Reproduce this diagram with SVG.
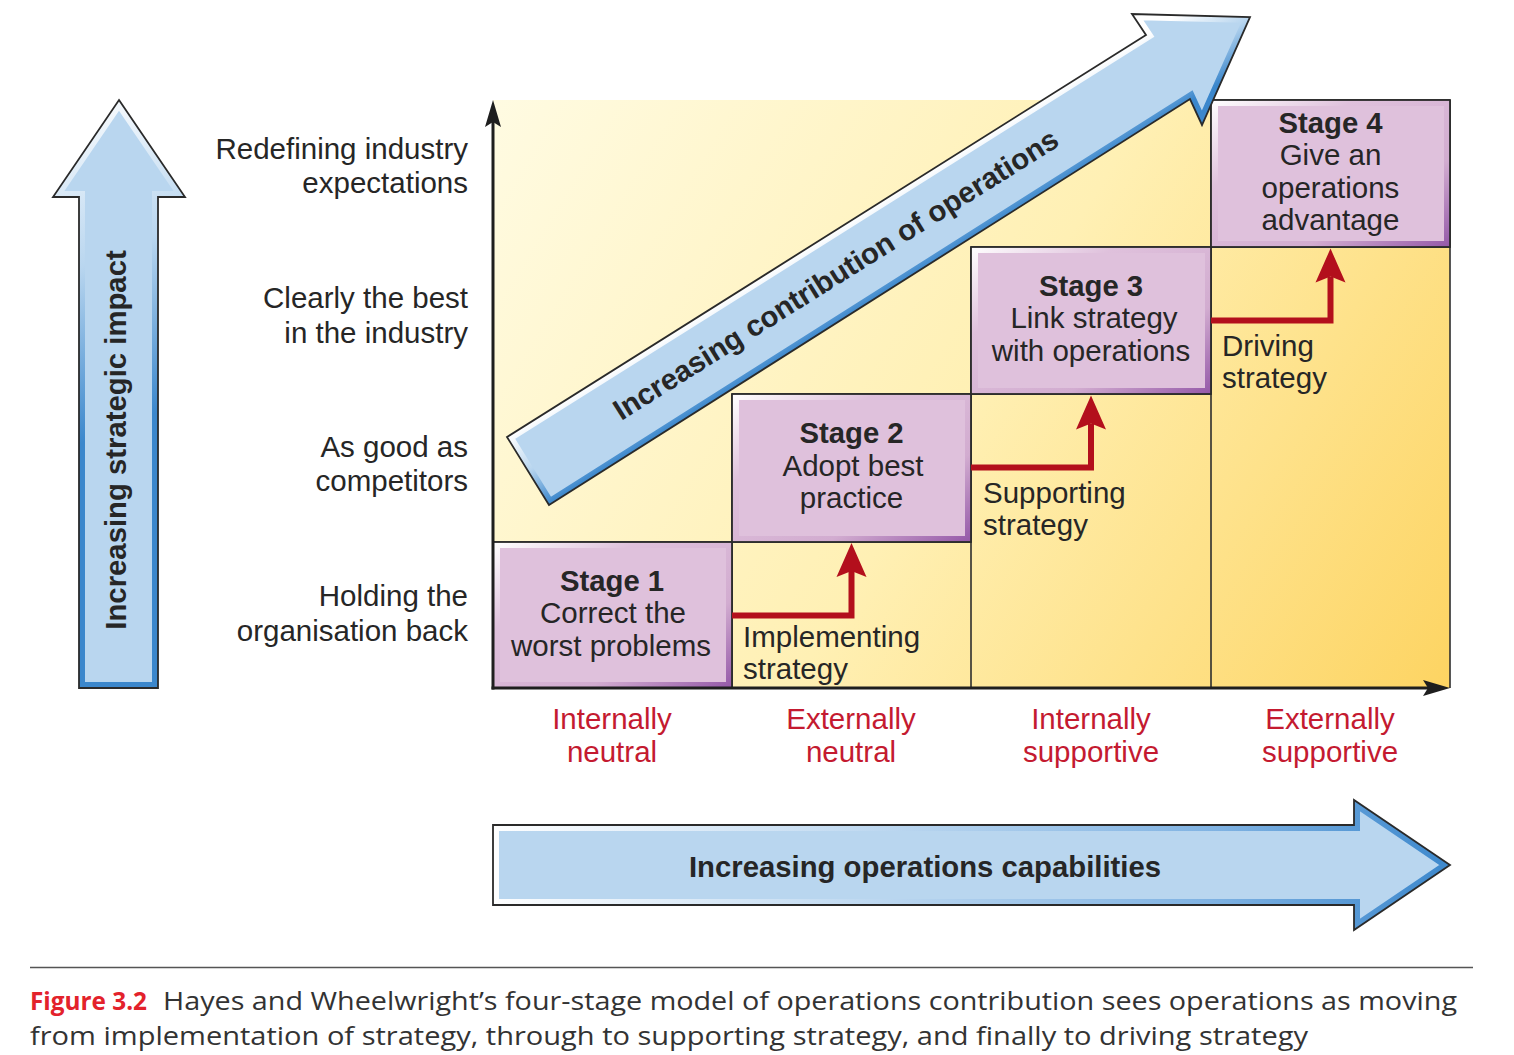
<svg xmlns="http://www.w3.org/2000/svg" xmlns:xlink="http://www.w3.org/1999/xlink" width="1514" height="1055" viewBox="0 0 1514 1055">
<style>
.t{font-family:"Liberation Sans",Arial,Helvetica,sans-serif;font-size:29.5px;fill:#262626}
.b{font-weight:bold;font-size:29.3px}
.m{text-anchor:middle}
.e{text-anchor:end}
.red{fill:#c41a30}
.grid{stroke:#2e2e2e;stroke-width:1.6;fill:none}
.axis{stroke:#1e1e1e;stroke-width:3;fill:none}
.step{stroke:#b30f1c;stroke-width:6;fill:none;stroke-linejoin:miter}
.outline{fill:none;stroke:#2a2a2a;stroke-width:1.8;stroke-linejoin:miter}
.bfill{fill:#b9d6ef}
.pfill{fill:#dfc1dc}
.cap{font-family:"Open Sans","Noto Sans",sans-serif;font-size:25.5px;fill:#333333}
.capB{font-family:"Open Sans","Noto Sans",sans-serif;font-size:25.5px;font-weight:bold;fill:#e3222b}
</style>
<defs>
<linearGradient id="bg" gradientUnits="userSpaceOnUse" x1="493" y1="100" x2="1450" y2="688">
<stop offset="0" stop-color="#fffbe2"/>
<stop offset="0.5" stop-color="#fff0b4"/>
<stop offset="1" stop-color="#fdd462"/>
</linearGradient>
<linearGradient id="gP" x1="0" y1="0" x2="1" y2="1">
<stop offset="0" stop-color="#ffffff"/>
<stop offset="0.3" stop-color="#dfc1dc"/>
<stop offset="0.7" stop-color="#d2acd0"/>
<stop offset="1" stop-color="#9458a8"/>
</linearGradient>
<linearGradient id="gL" gradientUnits="userSpaceOnUse" x1="60" y1="100" x2="185" y2="400">
<stop offset="0" stop-color="#ffffff"/>
<stop offset="0.5" stop-color="#b9d6ef"/>
<stop offset="1" stop-color="#3b87cc"/>
</linearGradient>
<linearGradient id="gB" gradientUnits="userSpaceOnUse" x1="493" y1="825" x2="1450" y2="930">
<stop offset="0" stop-color="#ffffff"/>
<stop offset="0.35" stop-color="#c6ddf2"/>
<stop offset="0.75" stop-color="#7fb2e2"/>
<stop offset="1" stop-color="#3b87cc"/>
</linearGradient>
<linearGradient id="gD" gradientUnits="userSpaceOnUse" x1="780" y1="265" x2="822.6" y2="332.8">
<stop offset="0" stop-color="#ffffff"/>
<stop offset="0.5" stop-color="#b9d6ef"/>
<stop offset="1" stop-color="#3b87cc"/>
</linearGradient>
<path id="arrL" d="M119,100 L185,197 L158,197 L158,688 L79,688 L79,197 L53,197 Z"/>
<path id="arrB" d="M493,825 L1354,825 L1354,800 L1450,865 L1354,930 L1354,905 L493,905 Z"/>
<path id="arrD" d="M507,437 L1146,35 L1132,14 L1250,17 L1202,125 L1190,99 L549,505 Z"/>
<clipPath id="cL"><use xlink:href="#arrL"/></clipPath>
<clipPath id="cB"><use xlink:href="#arrB"/></clipPath>
<clipPath id="cD"><use xlink:href="#arrD"/></clipPath>
<marker id="redHead" markerUnits="userSpaceOnUse" markerWidth="36" markerHeight="32" refX="6" refY="15" orient="auto" overflow="visible">
<path d="M0,0 L34,15 L0,30 L6,15 Z" fill="#b30f1c"/>
</marker>
<marker id="axHead" markerUnits="userSpaceOnUse" markerWidth="28" markerHeight="17" refX="5" refY="8" orient="auto" overflow="visible">
<path d="M0,0 L27,8 L0,16 L5,8 Z" fill="#1e1e1e"/>
</marker>
</defs>

<rect width="1514" height="1055" fill="#ffffff"/>

<g id="impact-arrow">
<use xlink:href="#arrL" class="bfill"/>
<use xlink:href="#arrL" fill="none" stroke="url(#gL)" stroke-width="12" clip-path="url(#cL)"/>
<use xlink:href="#arrL" class="outline"/>
<text class="t b m" transform="translate(126,440) rotate(-90)">Increasing strategic impact</text>
</g>

<g id="level-labels">
<text class="t e" x="468" y="159">Redefining industry</text>
<text class="t e" x="468" y="193">expectations</text>
<text class="t e" x="468" y="308">Clearly the best</text>
<text class="t e" x="468" y="343">in the industry</text>
<text class="t e" x="468" y="457">As good as</text>
<text class="t e" x="468" y="491">competitors</text>
<text class="t e" x="468" y="606">Holding the</text>
<text class="t e" x="468" y="641">organisation back</text>
</g>

<g id="chart-area">
<rect x="493" y="100" width="957" height="588" fill="url(#bg)"/>
<path class="grid" d="M732,394 V688 M971,247 V688 M1211,100 V688 M1450,100 V688 M493,542 H971 M732,394 H1211 M971,247 H1450 M1211,100 H1450"/>
</g>

<g id="stage1">
<rect x="493" y="542" width="239" height="146" fill="url(#gP)"/>
<rect x="500" y="548" width="226" height="134" class="pfill"/>
<rect x="493" y="542" width="239" height="146" class="outline" stroke-width="1.6"/>
<text class="t b m" x="612" y="591">Stage 1</text>
<text class="t m" x="613" y="623">Correct the</text>
<text class="t m" x="611" y="656">worst problems</text>
</g>

<g id="stage2">
<rect x="732" y="394" width="239" height="148" fill="url(#gP)"/>
<rect x="739" y="400" width="226" height="136" class="pfill"/>
<rect x="732" y="394" width="239" height="148" class="outline" stroke-width="1.6"/>
<text class="t b m" x="851.5" y="443">Stage 2</text>
<text class="t m" x="853" y="476">Adopt best</text>
<text class="t m" x="851.5" y="508">practice</text>
</g>

<g id="stage3">
<rect x="971" y="247" width="240" height="147" fill="url(#gP)"/>
<rect x="978" y="253" width="227" height="135" class="pfill"/>
<rect x="971" y="247" width="240" height="147" class="outline" stroke-width="1.6"/>
<text class="t b m" x="1091" y="296">Stage 3</text>
<text class="t m" x="1094" y="328">Link strategy</text>
<text class="t m" x="1091" y="361">with operations</text>
</g>

<g id="stage4">
<rect x="1211" y="100" width="239" height="147" fill="url(#gP)"/>
<rect x="1218" y="106" width="226" height="135" class="pfill"/>
<rect x="1211" y="100" width="239" height="147" class="outline" stroke-width="1.6"/>
<text class="t b m" x="1330.5" y="133">Stage 4</text>
<text class="t m" x="1330.5" y="165">Give an</text>
<text class="t m" x="1330.5" y="198">operations</text>
<text class="t m" x="1330.5" y="230">advantage</text>
</g>

<g id="axes">
<path class="axis" d="M493,689.5 V122" marker-end="url(#axHead)"/>
<path class="axis" d="M491.5,688 H1428" marker-end="url(#axHead)"/>
</g>

<g id="contribution-arrow">
<use xlink:href="#arrD" class="bfill"/>
<use xlink:href="#arrD" fill="none" stroke="url(#gD)" stroke-width="12" clip-path="url(#cD)"/>
<use xlink:href="#arrD" class="outline"/>
<text class="t b m" transform="translate(841,283) rotate(-32.13)">Increasing contribution of operations</text>
</g>

<g id="connectors">
<path class="step" d="M732,615.5 H851.5 V571" marker-end="url(#redHead)"/>
<path class="step" d="M971,467.5 H1091 V423.5" marker-end="url(#redHead)"/>
<path class="step" d="M1211,320.5 H1330.5 V276.5" marker-end="url(#redHead)"/>
</g>

<g id="strategy-labels">
<text class="t" x="743" y="647">Implementing</text>
<text class="t" x="743" y="679">strategy</text>
<text class="t" x="983" y="503">Supporting</text>
<text class="t" x="983" y="535">strategy</text>
<text class="t" x="1222" y="356">Driving</text>
<text class="t" x="1222" y="388">strategy</text>
</g>

<g id="column-labels">
<text class="t m red" x="612" y="729">Internally</text>
<text class="t m red" x="612" y="762">neutral</text>
<text class="t m red" x="851" y="729">Externally</text>
<text class="t m red" x="851" y="762">neutral</text>
<text class="t m red" x="1091" y="729">Internally</text>
<text class="t m red" x="1091" y="762">supportive</text>
<text class="t m red" x="1330" y="729">Externally</text>
<text class="t m red" x="1330" y="762">supportive</text>
</g>

<g id="capabilities-arrow">
<use xlink:href="#arrB" class="bfill"/>
<use xlink:href="#arrB" fill="none" stroke="url(#gB)" stroke-width="12" clip-path="url(#cB)"/>
<use xlink:href="#arrB" class="outline"/>
<text class="t b m" x="925" y="877">Increasing operations capabilities</text>
</g>

<g id="caption">
<line x1="30" y1="967.5" x2="1473" y2="967.5" stroke="#555555" stroke-width="1.3"/>
<text class="capB" x="30" y="1010" textLength="117" lengthAdjust="spacingAndGlyphs">Figure 3.2</text>
<text class="cap" x="163" y="1010" textLength="1294" lengthAdjust="spacingAndGlyphs">Hayes and Wheelwright’s four-stage model of operations contribution sees operations as moving</text>
<text class="cap" x="30" y="1045" textLength="1278" lengthAdjust="spacingAndGlyphs">from implementation of strategy, through to supporting strategy, and finally to driving strategy</text>
</g>
</svg>
